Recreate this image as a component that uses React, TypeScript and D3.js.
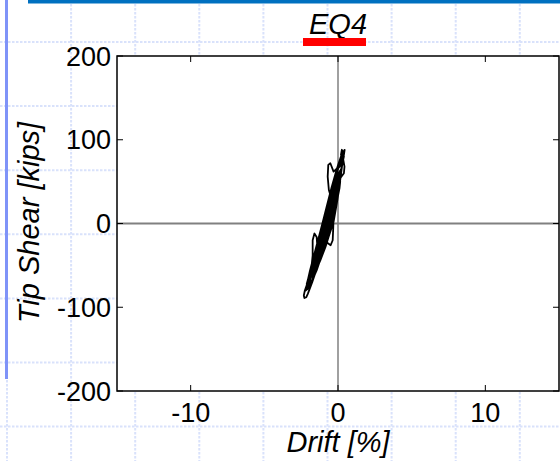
import React from "react";
import * as d3 from "d3";

const W = 560;
const H = 461;

const xTicks = [-10, 0, 10];
const yTicks = [-200, -100, 0, 100, 200];
const xDomain = [-15, 15];
const yDomain = [-200, 200];
const title = "EQ4";
const xLabel = "Drift [%]";
const yLabel = "Tip Shear [kips]";

// drift [%] of the recorded response trace (one row per cycle)
const drift = [
  -0.7, -0.4, -0.25, -0.2, -0.5, -0.8, -1.05, -1.1,
  -0.75, -0.4, -0.15, 0.0, -0.3, -0.7, -1.0, -1.3, -1.45,
  -1.0, -0.6, -0.35, -0.1, 0.1, 0.15, -0.2, -0.55, -0.95, -1.25, -1.5, -1.7,
  -1.3, -0.95, -0.6, -0.3, -0.08, 0.1, 0.22, -0.05, -0.4, -0.75, -1.05, -1.35, -1.65, -1.95,
  -1.55, -1.2, -0.85, -0.5, -0.2, 0.02, 0.2, 0.32, 0.0, -0.3, -0.65, -1.0, -1.3, -1.6, -1.9, -2.12,
  -1.8, -1.45, -1.1, -0.75, -0.4, -0.1, 0.12, 0.3, 0.4, 0.45, 0.32, 0.1, -0.2, -0.55, -0.9, -1.2, -1.5, -1.8, -2.05, -2.25, -2.32, -2.28, -2.15, -2.05,
  -1.75, -1.4, -1.05, -0.7, -0.35, -0.05, 0.18, 0.35, 0.4, 0.2, -0.1, -0.45, -0.8, -1.1, -1.4, -1.75, -2.05, -2.2,
  -1.9, -1.6, -1.3, -0.95, -0.6, -0.3, 0.0, 0.18, -0.15, -0.5, -0.85, -1.15, -1.45, -1.75, -1.85,
  -1.5, -1.15, -0.8, -0.5, -0.3, -0.45, -0.62, -0.7, -0.66, -0.52, -0.3, -0.05, 0.2, 0.32, 0.26, 0.2, 0.36, 0.44, 0.4, 0.15, -0.2, -0.6, -0.95, -1.25, -1.55, -1.8, -1.98,
  -1.6, -1.25, -0.9, -0.55, -0.25, 0.0, 0.1, -0.2, -0.55, -0.9, -1.2, -1.4, -1.45, -1.6, -1.72, -1.72, -1.8, -1.95,
  -1.6, -1.25, -0.9, -0.55, -0.25, 0.0, 0.15, -0.1, -0.45, -0.8, -1.1, -1.4, -1.7, -1.8,
  -1.45, -1.1, -0.75, -0.4, -0.1, 0.15, 0.33, 0.42, 0.2, -0.1, -0.45, -0.8, -1.12, -1.45, -1.8, -2.05, -2.18,
  -1.85, -1.5, -1.15, -0.8, -0.45, -0.15, 0.05, -0.15, -0.25, -0.3, -0.32, -0.36, -0.5, -0.8, -1.2, -1.45,
  -1.1, -0.8, -0.5, -0.25, -0.05, -0.35, -0.7, -1.0, -1.25, -1.35,
  -1.0, -0.7, -0.4, -0.1, 0.1, 0.22, -0.05, -0.4, -0.75, -1.05, -1.35, -1.65, -1.9,
  -1.55, -1.2, -0.85, -0.5, -0.2, 0.05, 0.22, 0.3, 0.02, -0.3, -0.65, -1.0, -1.3, -1.6, -1.9, -2.08,
  -1.75, -1.4, -1.05, -0.7, -0.38, -0.1, 0.1, -0.2, -0.55, -0.9, -1.2, -1.5, -1.8, -1.98,
  -1.6, -1.2, -0.85, -0.5, -0.25, -0.15, -0.45, -0.8, -1.1, -1.3,
  -0.95, -0.6, -0.4, -0.35, -0.6, -0.85, -0.95, -0.8, -0.7,
  -1.0, -1.3, -1.6, -1.85, -1.92, -1.65, -1.35, -1.05, -0.75, -0.45, -0.2, 0.0, 0.12,
  -0.1, -0.35, -0.7, -1.0, -1.25, -1.55, -1.8, -2.05,
  -1.85, -1.5, -1.2, -0.95, -0.65, -0.35, -0.1, -0.05,
  -0.35, -0.65, -0.95, -1.2, -1.45, -1.65, -1.4, -1.1, -0.85, -0.6,
];

// tip shear [kips] of the recorded response trace (one row per cycle)
const shear = [
  0, 10, 18, 20, 14, 4, -8, -15,
  -10, 5, 22, 35, 28, 12, -4, -20, -30,
  -26, -10, 4, 24, 42, 50, 44, 26, 4, -14, -30, -45,
  -44, -32, -14, 2, 24, 44, 65, 58, 42, 20, 0, -20, -40, -60,
  -58, -44, -28, -8, 14, 36, 58, 75, 68, 50, 28, 4, -18, -40, -58, -72,
  -70, -56, -38, -18, 4, 30, 52, 72, 82, 88, 84, 74, 56, 32, 10, -12, -34, -54, -70, -80, -86, -89, -88, -84,
  -70, -52, -32, -12, 10, 36, 60, 76, 80, 76, 62, 40, 16, -6, -28, -52, -70, -80,
  -76, -62, -46, -26, -6, 16, 40, 60, 54, 34, 12, -10, -30, -50, -55,
  -54, -38, -18, 2, 20, 30, 40, 56, 70, 72, 62, 66, 78, 86, 88, 82, 76, 68, 60, 54, 40, 20, 0, -20, -40, -56, -65,
  -62, -46, -28, -8, 14, 34, 45, 40, 22, 2, -16, -28, -16, -12, -20, -38, -52, -62,
  -60, -44, -26, -6, 16, 38, 55, 50, 32, 12, -8, -28, -48, -50,
  -48, -32, -12, 10, 34, 58, 76, 85, 80, 64, 42, 18, -4, -28, -52, -68, -78,
  -74, -56, -36, -16, 6, 28, 40, 36, 26, 12, -4, -20, -26, -22, -30, -36,
  -32, -20, -4, 14, 30, 22, 8, -8, -20, -25,
  -24, -10, 8, 30, 48, 62, 58, 40, 18, -2, -22, -42, -58,
  -56, -40, -20, 2, 26, 48, 64, 72, 66, 48, 26, 4, -16, -36, -56, -70,
  -68, -52, -32, -12, 10, 32, 50, 46, 28, 6, -14, -34, -52, -62,
  -58, -40, -20, 0, 18, 25, 18, 4, -10, -20,
  -14, -2, 8, 10, 6, -4, -8, -4, 0,
  -14, -32, -50, -62, -66, -56, -42, -24, -4, 18, 38, 52, 60,
  52, 36, 12, -8, -26, -46, -62, -75,
  -72, -54, -38, -22, -2, 18, 36, 40,
  30, 14, -6, -22, -38, -50, -44, -30, -14, 0,
];

const plot = { left: 117, right: 559, top: 56, bottom: 391 };

export default function App() {
  const x = d3.scaleLinear().domain(xDomain).range([plot.left, plot.right]);
  const y = d3.scaleLinear().domain(yDomain).range([plot.bottom, plot.top]);
  const n = Math.min(drift.length, shear.length);
  const pts: [number, number][] = drift.slice(0, n).map((d, i) => [d, shear[i]]);
  const line = d3
    .line<[number, number]>()
    .x((d) => x(d[0]))
    .y((d) => y(d[1]))
    .curve(d3.curveLinear);

  const gridX: number[] = [];
  for (let gx = 7; gx < W; gx += 64.1) gridX.push(gx);
  const gridY: number[] = [];
  for (let gy = 42 - 64.1; gy < H; gy += 64.1) gridY.push(gy);

  const font = "'Liberation Sans', Arial, sans-serif";
  const tickLen = 6;

  return (
    <svg
      width={W}
      height={H}
      style={{ position: "absolute", left: 0, top: 0, background: "#fff" }}
      fontFamily={font}
    >
      <g stroke="#d9e2fb" strokeWidth={2} strokeDasharray="2.5 1.5">
        {gridX.map((gx, i) => (
          <line key={"gx" + i} x1={gx} x2={gx} y1={0} y2={H} />
        ))}
        {gridY.map((gy, i) => (
          <line key={"gy" + i} x1={0} x2={W} y1={gy} y2={gy} />
        ))}
      </g>
      <rect x={28} y={0} width={W - 28} height={3.5} fill="#0070c0" />
      <rect x={5} y={0} width={3} height={379} fill="#7f93f8" />

      <text
        x={(plot.left + plot.right) / 2}
        y={34}
        textAnchor="middle"
        fontSize={29}
        fontStyle="italic"
      >
        {title}
      </text>
      <rect x={303} y={38} width={63} height={8} fill="#ff0000" />

      <rect
        x={plot.left}
        y={plot.top}
        width={plot.right - plot.left}
        height={plot.bottom - plot.top}
        fill="#fff"
      />
      <line x1={x(0)} x2={x(0)} y1={plot.top} y2={plot.bottom} stroke="#808080" strokeWidth={1.5} />
      <line x1={plot.left} x2={plot.right} y1={y(0)} y2={y(0)} stroke="#808080" strokeWidth={2} />

      <path d={line(pts) || ""} fill="none" stroke="#000" strokeWidth={1.8} strokeLinejoin="round" />

      <g stroke="#000" strokeWidth={1}>
        {xTicks.map((t) => (
          <g key={"xt" + t}>
            <line x1={x(t)} x2={x(t)} y1={plot.bottom} y2={plot.bottom - tickLen} />
            <line x1={x(t)} x2={x(t)} y1={plot.top} y2={plot.top + tickLen} />
          </g>
        ))}
        {yTicks.map((t) => (
          <g key={"yt" + t}>
            <line x1={plot.left} x2={plot.left + tickLen} y1={y(t)} y2={y(t)} />
            <line x1={plot.right} x2={plot.right - tickLen} y1={y(t)} y2={y(t)} />
          </g>
        ))}
      </g>
      <rect
        x={plot.left}
        y={plot.top}
        width={plot.right - plot.left}
        height={plot.bottom - plot.top}
        fill="none"
        stroke="#000"
        strokeWidth={1.5}
      />

      {xTicks.map((t) => (
        <text key={"xl" + t} x={x(t)} y={422} textAnchor="middle" fontSize={27}>
          {t}
        </text>
      ))}
      {yTicks.map((t) => (
        <text key={"yl" + t} x={111} y={y(t)} dy="0.36em" textAnchor="end" fontSize={27}>
          {t}
        </text>
      ))}

      <text x={(plot.left + plot.right) / 2} y={452} textAnchor="middle" fontSize={29} fontStyle="italic">
        {xLabel}
      </text>
      <text
        transform={`translate(39, ${(plot.top + plot.bottom) / 2 - 1}) rotate(-90)`}
        textAnchor="middle"
        fontSize={29}
        fontStyle="italic"
      >
        {yLabel}
      </text>
    </svg>
  );
}
